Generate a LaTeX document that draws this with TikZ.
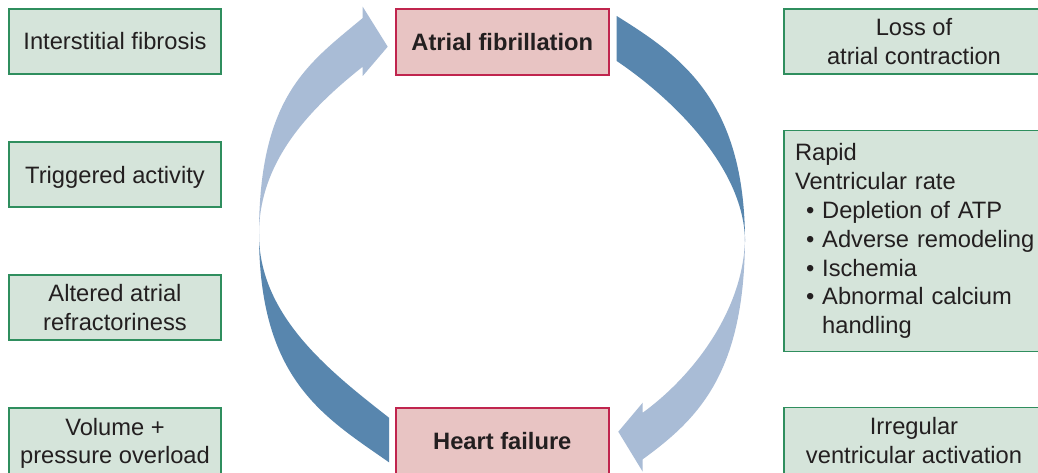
\documentclass[tikz,border=0pt]{standalone}
\usepackage{fontspec}
\setmainfont{Liberation Sans}
\definecolor{ink}{HTML}{231F20}
\definecolor{greenfill}{HTML}{D5E4DA}
\definecolor{greenline}{HTML}{2F8E5E}
\definecolor{pinkfill}{HTML}{E8C4C3}
\definecolor{pinkline}{HTML}{C0254E}
\definecolor{lightarrow}{HTML}{A9BCD6}
\definecolor{darkarrow}{HTML}{5886AE}
\begin{document}
\begin{tikzpicture}[x=1pt,y=-1pt,
  every node/.style={font=\fontsize{23.7}{28.8}\selectfont, text=ink},
  greenbox/.style={rectangle, draw=greenline, fill=greenfill, line width=1.4pt,
    inner sep=0pt, minimum width=212pt, minimum height=65pt, align=center},
  sidebox/.style={greenbox, minimum width=260pt},
  pinkbox/.style={rectangle, draw=pinkline, fill=pinkfill, line width=1.4pt,
    inner sep=0pt, minimum width=213pt, minimum height=66pt,
    font=\fontsize{23.7}{28.8}\selectfont\bfseries},
  oneline/.style={text height=17pt, text depth=0pt}
]
\clip (0,0) rectangle (1038,473);
\fill[white] (0,0) rectangle (1038,473);

% cycle arrows: each is a crescent between two curves meeting at a sharp tail
\coordinate (tailL) at (259,234);
\coordinate (tailR) at (745,236);
% heart failure -> atrial fibrillation (light, with head)
\fill[lightarrow] (tailL) .. controls (259,95) and (309.1,63) .. (362.7,18)
  -- (362.7,6.7) -- (387.7,46.7) -- (362.7,76) -- (362.7,66.7)
  .. controls (311.8,107.1) and (259,160) .. (tailL) -- cycle;
% atrial fibrillation -> heart failure, lower left (dark)
\fill[darkarrow] (tailL) .. controls (259,380) and (323.5,416.4) .. (389,462.3)
  -- (389,417.7) .. controls (329.9,371.5) and (259,316) .. (tailL) -- cycle;
% atrial fibrillation -> heart failure, upper right (dark)
\fill[darkarrow] (616.7,16) .. controls (680.3,55.7) and (745,100) .. (745,242)
  .. controls (745,170) and (674.7,100.1) .. (616.7,61) -- cycle;
% lower right (light, with head)
\fill[lightarrow] (tailR) .. controls (745,372) and (699.3,418.2) .. (642.7,459.3)
  -- (642.7,471.7) -- (618.3,431.7) -- (642.7,402.7) -- (642.7,412.7)
  .. controls (695.3,374.5) and (745,307) .. (tailR) -- cycle;

% left column
\node[greenbox, oneline] (fib) at (115,41.5) {Interstitial fibrosis};
\node[greenbox, oneline] (trig) at (115,174.5) {Triggered activity};
\node[greenbox] (refr) at (115,307.5) {Altered atrial\\refractoriness};
\node[greenbox, minimum height=66pt] (vol) at (115,441)
  {\rule{0pt}{22pt}Volume +\\pressure overload};

% centre
\node[pinkbox, oneline] (af) at (502.3,42) {Atrial fibrillation};
\node[pinkbox, oneline] (hf) at (502.3,440.8) {Heart failure};

% right column
\node[sidebox] (loss) at (914,41.5) {Loss of\\atrial contraction};
\node[sidebox, minimum height=221pt, align=left, text width=250pt,
  inner xsep=11pt] (rapid) at (920,241.2)
  {Rapid\\Ventricular rate\\
   \hspace*{11pt}• Depletion of ATP\\
   \hspace*{11pt}• Adverse remodeling\\
   \hspace*{11pt}• Ischemia\\
   \hspace*{11pt}• Abnormal calcium\\
   \hspace*{11pt}\phantom{• }handling};
\node[sidebox, minimum height=66pt] (irr) at (914,440.7) {Irregular\\ventricular activation};
\end{tikzpicture}
\end{document}
